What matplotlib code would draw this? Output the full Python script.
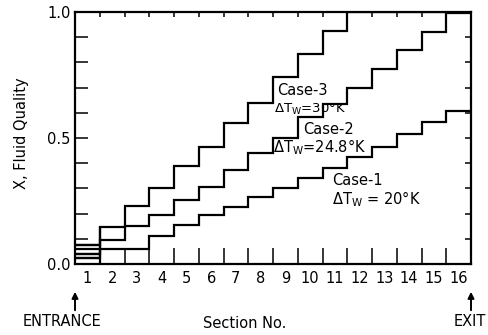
import matplotlib

matplotlib.use("Agg")
import matplotlib.pyplot as plt
import numpy as np

# %% Data (fluid quality per section)
sections = np.arange(1, 17)
case3 = [0.075, 0.148, 0.230, 0.303, 0.390, 0.466, 0.558, 0.640,
         0.742, 0.832, 0.925, 1.0, 1.0, 1.0, 1.0, 1.0]
case2 = [0.041, 0.095, 0.152, 0.195, 0.255, 0.307, 0.373, 0.439,
         0.499, 0.585, 0.633, 0.700, 0.775, 0.850, 0.920, 0.995]
case1 = [0.023, 0.058, 0.058, 0.113, 0.153, 0.194, 0.228, 0.265,
         0.300, 0.340, 0.380, 0.423, 0.466, 0.516, 0.565, 0.608]
entrance_levels = [0.023, 0.041, 0.058, 0.075]
y_ticks = np.round(np.arange(0, 1.01, 0.1), 1)
y_labels = ["0.0", "0.5", "1.0"]

FS = 10.5
plt.rcParams["font.family"] = "DejaVu Sans"

fig = plt.figure(figsize=(4.88, 3.35), dpi=100)
ax = fig.add_axes([75 / 488, 1 - 264 / 335, 396 / 488, 252 / 335])
edges = np.arange(0.5, 17.0, 1.0)

for vals in (case3, case2, case1):
    ax.stairs(vals, edges, baseline=None, color="black", lw=1.6)
ax.hlines(entrance_levels, edges[0], edges[1], color="black", lw=1.6)
ax.vlines(edges[1], 0, case3[1], color="black", lw=1.6)

ax.set_xlim(edges[0], edges[-1])
ax.set_ylim(0, 1.0)
for s in ax.spines.values():
    s.set_linewidth(1.6)

# x: labels centred in each section, long inward ticks at section boundaries
ax.set_xticks(sections)
ax.set_xticklabels([str(s) for s in sections], fontsize=FS)
ax.set_xticks(edges[1:-1], minor=True)
ax.tick_params(axis="x", which="major", length=0, pad=5)
ax.tick_params(axis="x", which="minor", direction="in", length=11.5, width=1.1)

# y: ticks every 0.1, labels at 0, 0.5, 1
ax.set_yticks(y_ticks)
ax.set_yticklabels([f"{v:.1f}" if f"{v:.1f}" in y_labels else "" for v in y_ticks],
                   fontsize=FS)
ax.tick_params(axis="y", direction="in", length=9.5, width=1.1, pad=3)

# short ticks on the top and right edges
ax_r = ax.twinx()
ax_r.set_ylim(0, 1.0)
ax_r.set_yticks(y_ticks)
ax_r.tick_params(axis="y", direction="in", length=4.3, width=1.1, labelright=False)
ax_t = ax.twiny()
ax_t.set_xlim(edges[0], edges[-1])
ax_t.set_xticks(edges[1:-1])
ax_t.tick_params(axis="x", direction="in", length=3.6, width=1.1, labeltop=False)
for a in (ax_r, ax_t):
    for s in a.spines.values():
        s.set_visible(False)

# case labels
ax.text(8.66, 0.69, "Case-3", fontsize=FS, va="center", ha="left")
ax.text(8.54, 0.615, r"$\Delta$T$_\mathregular{W}$=30°K", fontsize=9.5, va="center", ha="left")
ax.text(9.71, 0.535, "Case-2", fontsize=FS, va="center", ha="left")
ax.text(8.5, 0.465, r"$\Delta$T$_\mathregular{W}$=24.8°K", fontsize=FS, va="center", ha="left")
ax.text(10.88, 0.33, "Case-1", fontsize=FS, va="center", ha="left")
ax.text(10.88, 0.258, r"$\Delta$T$_\mathregular{W}$ = 20°K", fontsize=FS, va="center", ha="left")

# axis titles and entrance / exit markers
fig.text(22 / 488, 1 - 133 / 335, "X, Fluid Quality", rotation=90, fontsize=FS,
         ha="center", va="center")
fig.text(245 / 488, 1 - 323 / 335, "Section No.", fontsize=FS, ha="center", va="center")
fig.text(62 / 488, 1 - 321 / 335, "ENTRANCE", fontsize=FS, ha="center", va="center")
fig.text(470 / 488, 1 - 321 / 335, "EXIT", fontsize=FS, ha="center", va="center")
for xe in (edges[0], edges[-1]):
    ax.annotate("", xy=(xe, 1 - 289 / 335), xytext=(xe, 1 - 313 / 335),
                xycoords=("data", "figure fraction"), textcoords=("data", "figure fraction"),
                arrowprops=dict(arrowstyle="-|>", color="black", lw=1.4, mutation_scale=9))

fig.savefig("out.png", dpi=100)
